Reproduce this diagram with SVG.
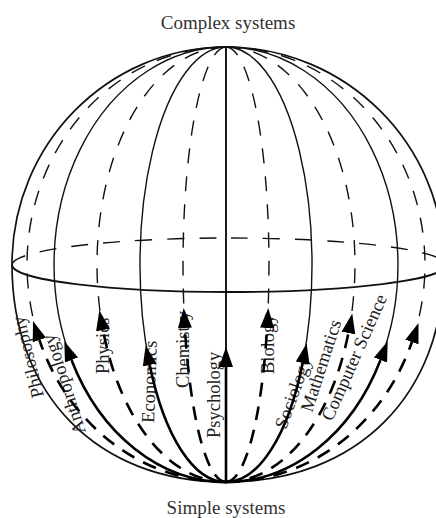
<svg xmlns="http://www.w3.org/2000/svg" width="436" height="518" viewBox="0 0 436 518">
<style>
.thin{fill:none;stroke:#111;stroke-width:1.4}
.thick{fill:none;stroke:#000;stroke-width:2.6}
.dash{stroke-dasharray:15 13}
.tdash{stroke-dasharray:14 10}
.edash{stroke-dasharray:17 15}
.lbl{font-family:"Liberation Serif",serif;font-size:18.5px;fill:#222}
.ttl{font-family:"Liberation Serif",serif;font-size:19px;fill:#333;text-anchor:middle}
</style>
<defs>
<marker id="ah" markerUnits="userSpaceOnUse" markerWidth="24" markerHeight="16" refX="0" refY="7" orient="auto" viewBox="0 0 24 14">
<path d="M0,0 L20,7 L0,14 z" fill="#000"/>
</marker>
</defs>
<rect width="436" height="518" fill="#fff"/>
<g id="titles">
<text id="complex" class="ttl" x="228" y="29">Complex systems</text>
<text id="simple" class="ttl" x="226" y="514">Simple systems</text>
</g>
<g id="sphere">
<path id="outline" class="thin" style="stroke-width:1.7" d="M226,47 C107.8,47 12,144.4 12,264.5 C12,395 97.6,482 226,482 C357,482 444,395 444,264.5 C444,144.4 346,47 226,47 Z"/>
<path id="equator-back" class="thin edash" d="M12,265 A217,27 0 0 1 446,265"/>
<path id="equator-front" class="thin" style="stroke-width:1.9" d="M12,265 A217,27 0 0 0 446,265"/>
</g>
<g id="labels">
<text id="l-philosophy" class="lbl" transform="translate(44,396) rotate(-104)">Philosophy</text>
<text id="l-anthropology" class="lbl" transform="translate(86,432) rotate(-108)">Anthropology</text>
<text id="l-physics" class="lbl" transform="translate(109,374) rotate(-90)">Physics</text>
<text id="l-economics" class="lbl" transform="translate(154,423) rotate(-88)">Economics</text>
<text id="l-chemistry" class="lbl" transform="translate(189,388) rotate(-90)">Chemistry</text>
<text id="l-psychology" class="lbl" transform="translate(220,438) rotate(-90)">Psychology</text>
<text id="l-biology" class="lbl" transform="translate(274,374) rotate(-90)">Biology</text>
<text id="l-sociology" class="lbl" transform="translate(286,430) rotate(-70)">Sociology</text>
<text id="l-mathematics" class="lbl" transform="translate(312,413) rotate(-72)">Mathematics</text>
<text id="l-computer" class="lbl" transform="translate(332,422) rotate(-66)">Computer Science</text>
</g>
<g id="connectors">
<path class="thin dash" d="M226,47 A199,217.5 0 0 0 39.4,340"/>
<path class="thin" d="M226,47 A172,217.5 0 0 0 71.5,360"/>
<path class="thin dash" d="M226,47 A129,217.5 0 0 0 103,330"/>
<path class="thin" d="M226,47 A86,217.5 0 0 0 149.7,365"/>
<path class="thin dash" d="M226,47 A43,217.5 0 0 0 184.9,328"/>
<path class="thin" style="stroke-width:1.9" d="M226,47 V367"/>
<path class="thin dash" d="M226,47 A43,217.5 0 0 1 267.1,328"/>
<path class="thin" d="M226,47 A86,217.5 0 0 1 302.7,363"/>
<path class="thin dash" d="M226,47 A129,217.5 0 0 1 348.4,333"/>
<path class="thin" d="M226,47 A172,217.5 0 0 1 380.5,360"/>
<path class="thin dash" d="M226,47 A199,217.5 0 0 1 411.9,342"/>
<path class="thick tdash" marker-end="url(#ah)" d="M226,482 A199,217.5 0 0 1 39.4,340"/>
<path class="thick" marker-end="url(#ah)" d="M226,482 A172,217.5 0 0 1 71.5,360"/>
<path class="thick tdash" marker-end="url(#ah)" d="M226,482 A129,217.5 0 0 1 103,330"/>
<path class="thick" marker-end="url(#ah)" d="M226,482 A86,217.5 0 0 1 149.7,365"/>
<path class="thick tdash" marker-end="url(#ah)" d="M226,482 A43,217.5 0 0 1 184.9,328"/>
<path class="thick" marker-end="url(#ah)" d="M226,482 V367"/>
<path class="thick tdash" marker-end="url(#ah)" d="M226,482 A43,217.5 0 0 0 267.1,328"/>
<path class="thick" marker-end="url(#ah)" d="M226,482 A86,217.5 0 0 0 302.7,363"/>
<path class="thick tdash" marker-end="url(#ah)" d="M226,482 A129,217.5 0 0 0 348.4,333"/>
<path class="thick" marker-end="url(#ah)" d="M226,482 A172,217.5 0 0 0 380.5,360"/>
<path class="thick tdash" marker-end="url(#ah)" d="M226,482 A199,217.5 0 0 0 411.9,342"/>
</g>
</svg>
